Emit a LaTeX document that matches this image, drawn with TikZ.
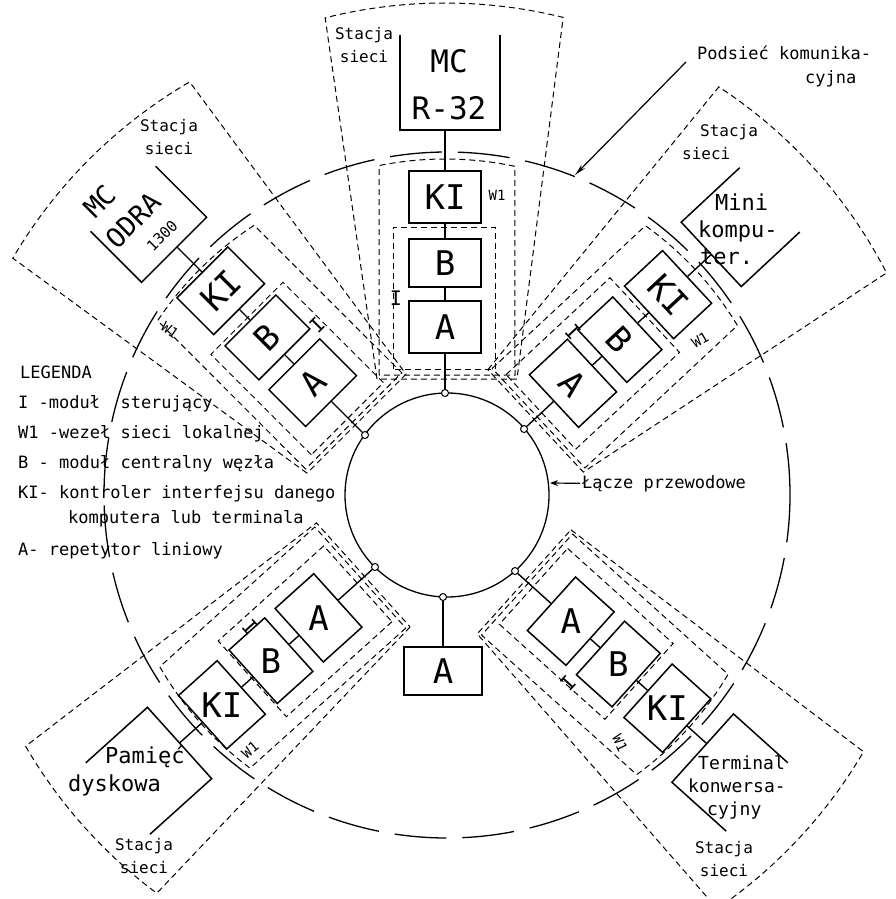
\documentclass[tikz,border=0pt]{standalone}
\usepackage{fontspec}
\setmainfont{DejaVu Sans Mono}
\usetikzlibrary{arrows.meta}
\newcommand\fsz[1]{\fontsize{#1}{#1}\selectfont}
\tikzset{
  box/.style={draw, line width=1.5pt, minimum width=72pt, inner sep=0pt},
  conn/.style={line width=1.4pt},
  dsh/.style={line width=1pt, dash pattern=on 6pt off 4pt},
  ring/.style={line width=1.3pt},
  bigd/.style={line width=1.3pt, dash pattern=on 52pt off 16pt},
  dotc/.style={circle, draw, fill=white, line width=1pt, minimum size=7pt, inner sep=0pt},
  blet/.style={font=\fsz{34}, inner sep=0pt},
  leg/.style={font=\fsz{17}, anchor=base west, inner sep=0pt},
  stl/.style={font=\fontsize{16}{23}\selectfont, align=center, inner sep=0pt},
  wl/.style={font=\fsz{14}, inner sep=0pt},
  il/.style={font=\fsz{20}, inner sep=0pt},
  ul/.style={line width=1.5pt},
  ctx/.style={anchor=north west, align=left, inner sep=0pt},
}
% #1 name, #2 chain angle, #3 dot x, #4 dot y, #5 offset, #6 text rotation, #7/#8 wedge arc angles
\newcommand\station[8]{%
\begin{scope}[shift={(#3,-#4)}, rotate=#2-90]
\draw[dsh] (-52,24) rectangle (50,166);
\draw[dsh] (-66,18) -- ({336*cos(101.3)},{-102+336*sin(101.3)}) arc[start angle=101.3, end angle=78, radius=336pt] -- (70,18) -- cycle;
\draw[dsh] (-68,14) -- ({492*cos(#7)},{-102+492*sin(#7)}) arc[start angle=#7, end angle=#8, radius=492pt] -- (72,14) -- cycle;
\node[dotc] (d#1) at (0,0) {};
\node[box, minimum height=52pt, rotate=#2-90] (#1A) at (0,{72+#5}) {};
\node[box, minimum height=48pt, rotate=#2-90] (#1B) at (0,{136+#5}) {};
\node[box, minimum height=52pt, rotate=#2-90] (#1KI) at (0,{202+#5}) {};
\end{scope}
\node[blet, rotate=#6] (#1At) at (#1A) {A};
\node[blet, rotate=#6] (#1Bt) at (#1B) {B};
\node[blet, rotate=#6] (#1KIt) at (#1KI) {KI};
\draw[conn] (d#1) -- (#1A.south);
\draw[conn] (#1A.north) -- (#1B.south);
\draw[conn] (#1B.north) -- (#1KI.south);
}
% #1 name, #2 angle, #3 dot x, #4 dot y, #5 left x, #6 right x, #7 base y, #8 depth
\newcommand\ucomp[8]{%
\begin{scope}[shift={(#3,-#4)}, rotate=#2-90]
\coordinate (#1U) at (0,#7);
\draw[ul] (#5,{#7+#8}) -- (#5,#7) -- (#6,#7) -- (#6,{#7+#8});
\end{scope}
\draw[conn] (#1KI.north) -- (#1U);
}
\begin{document}
\begin{tikzpicture}[x=1pt,y=1pt]
\fill[white] (0,0) rectangle (896,-899);
\useasboundingbox (0,0) rectangle (896,-899);

% rings
\draw[ring] (447,-495) circle[radius=102pt];
\draw[bigd] (447,-495) circle[radius=343pt];

% stations
\station{T}{90}{445}{393}{-6}{0}{104.1}{76.1}
\station{UL}{135}{365}{435}{2}{45}{104.6}{75.2}
\station{UR}{43}{524}{429}{-5}{-47}{103.8}{74.3}
\station{LL}{222}{375}{567}{4}{0}{101.3}{78.2}
\station{LR}{318}{515}{571}{3}{0}{101.6}{76.4}

\ucomp{T}{90}{445}{393}{-45}{55}{263}{95}
\ucomp{UL}{135}{365}{435}{-50}{42}{266}{72}
\ucomp{UR}{43}{524}{429}{-44}{44}{256}{80}
\ucomp{LL}{222}{375}{567}{-48}{48}{263}{83}
\ucomp{LR}{318}{515}{571}{-40}{52}{258}{73}

% lone repeater
\node[dotc] (dBot) at (443,-597) {};
\node[box, minimum width=78pt, minimum height=48pt] (BA) at (443,-671) {};
\node[blet] (BAt) at (BA) {A};
\draw[conn] (dBot) -- (BA.north);

% computer texts
\node[font=\fontsize{31}{47}\selectfont, align=center, anchor=north, inner sep=0pt] (tmc) at (449,-49) {MC\\R-32};
\node[font=\fontsize{27}{37}\selectfont, align=left, inner sep=0pt, rotate=45] (ulmc) at (129.5,-216.5)
  {\hspace*{6pt}MC\\ODRA\\[-10pt]\hspace*{24pt}{\fsz{15}1300}};
\node[font=\fontsize{22}{27}\selectfont, ctx] (mini) at (698,-194) {\hspace*{17pt}Mini\\kompu-\\\hspace*{2pt}ter.};
\node[font=\fontsize{22}{28}\selectfont, ctx] (pam) at (68,-746) {\hspace*{37pt}Pamięć\\dyskowa};
\node[font=\fontsize{18}{23}\selectfont, ctx] (term) at (688,-756) {\hspace*{10pt}Terminal\\konwersa-\\\hspace*{19pt}cyjny};

% Stacja sieci labels
\node[stl, anchor=north] (s1) at (364,-27) {Stacja\\sieci};
\node[stl, anchor=north] (s2) at (169,-119) {Stacja\\sieci};
\node[stl, ctx, font=\fontsize{16}{23}\selectfont] (s3) at (682,-124) {\hspace*{18pt}Stacja\\sieci};
\node[stl, anchor=north] (s4) at (144,-838) {Stacja\\sieci};
\node[stl, anchor=north] (s5) at (724,-841) {Stacja\\sieci};

% W1 labels
\node[wl] (w1t) at (497,-195) {W1};
\node[wl, rotate=-35] (w1ul) at (170,-330) {W1};
\node[wl, rotate=30] (w1ur) at (700,-340) {W1};
\node[wl, rotate=40] (w1ll) at (250,-750) {W1};
\node[wl, rotate=-65] (w1lr) at (620,-743) {W1};

% I labels
\node[il] (it) at (396,-298) {I};
\node[il, rotate=45] (iul) at (317,-325) {I};
\node[il, rotate=-47] (iur) at (573,-332) {I};
\node[il, rotate=-48] (ill) at (250,-627) {I};
\node[il, rotate=48] (ilr) at (568,-683) {I};

% Podsiec komunikacyjna
\node[font=\fontsize{17}{24}\selectfont, ctx] (pod) at (697,-46) {Podsieć komunika-\\\hspace*{108pt}cyjna};
\coordinate (ps) at (686,-62);
\coordinate (pt) at (575,-175);
\draw[line width=1.2pt, -{Stealth[length=12pt,width=5pt]}] (ps) -- (pt);

% Lacze przewodowe
\node[font=\fsz{17}, anchor=base west, inner sep=0pt] (lacze) at (582,-488) {Łącze przewodowe};
\coordinate (lt) at (550,-483);
\draw[line width=1.2pt, -{Stealth[length=8pt,width=6pt]}] ([xshift=-2pt]lacze.west) -- (lt);

% legend
\node[leg] (lg0) at (20,-378) {LEGENDA};
\node[leg] (lg1) at (18,-408) {I -moduł\ \ sterujący};
\node[leg] (lg2) at (18,-438) {W1 -wezeł sieci lokalnej};
\node[leg] (lg3) at (18,-468) {B - moduł centralny węzła};
\node[leg] (lg4) at (18,-498) {KI- kontroler interfejsu danego};
\node[leg] (lg5) at (68,-523) {komputera lub terminala};
\node[leg] (lg6) at (18,-555) {A- repetytor liniowy};
\end{tikzpicture}
\end{document}
